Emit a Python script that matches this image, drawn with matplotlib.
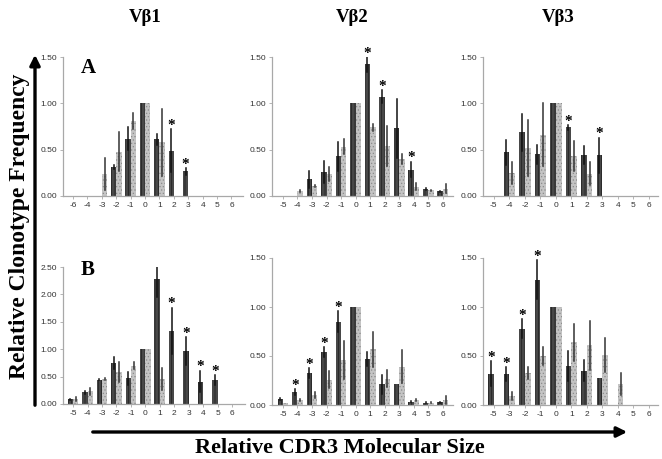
import matplotlib
matplotlib.use("Agg")
import matplotlib.pyplot as plt
from matplotlib.patches import FancyArrowPatch
import numpy as np

W, H = 662, 459

# size categories per panel
cats_v1 = ['-6', '-4', '-3', '-2', '-1', '0', '1', '2', '3', '4', '5', '6']
cats_v2 = ['-5', '-4', '-3', '-2', '-1', '0', '1', '2', '3', '4', '5', '6']
cats_v3a = ['-5', '-4', '-2', '-1', '0', '1', '2', '3', '4', '5', '6']
cats_v3b = ['-5', '-3', '-2', '-1', '0', '1', '2', '3', '4', '5', '6']

# row A
a1_dark = [0, 0, 0, 0.31, 0.62, 1.0, 0.61, 0.49, 0.265, 0, 0, 0]
a1_dark_err = [0, 0, 0, 0.02, 0.12, 0, 0.06, 0.23, 0.04, 0, 0, 0]
a1_light = [0, 0, 0.24, 0.48, 0.81, 1.0, 0.58, 0, 0, 0, 0, 0]
a1_light_err = [0, 0, 0.17, 0.21, 0.09, 0, 0.36, 0, 0, 0, 0, 0]
a1_star = [0, 0, 0, 0, 0, 0, 0, 1, 1, 0, 0, 0]

a2_dark = [0, 0, 0.18, 0.26, 0.43, 1.0, 1.42, 1.07, 0.73, 0.285, 0.072, 0.05]
a2_dark_err = [0, 0, 0.09, 0.115, 0.155, 0, 0.08, 0.07, 0.32, 0.085, 0.01, 0.005]
a2_light = [0, 0.054, 0.105, 0.235, 0.53, 1.0, 0.74, 0.54, 0.40, 0.10, 0.06, 0.08]
a2_light_err = [0, 0.01, 0.01, 0.075, 0.08, 0, 0.04, 0.215, 0.05, 0.04, 0.01, 0.05]
a2_star = [0, 0, 0, 0, 0, 0, 1, 1, 0, 1, 0, 0]

a3_dark = [0, 0.47, 0.69, 0.45, 1.0, 0.74, 0.44, 0.44, 0, 0, 0]
a3_dark_err = [0, 0.135, 0.20, 0.10, 0, 0.025, 0.10, 0.19, 0, 0, 0]
a3_light = [0, 0.25, 0.52, 0.66, 1.0, 0.43, 0.24, 0, 0, 0, 0]
a3_light_err = [0, 0.12, 0.30, 0.34, 0, 0.16, 0.125, 0, 0, 0, 0]
a3_star = [0, 0, 0, 0, 0, 1, 0, 1, 0, 0, 0]

# row B
b1_dark = [0.09, 0.21, 0.44, 0.75, 0.47, 1.0, 2.29, 1.34, 0.97, 0.41, 0.44, 0]
b1_dark_err = [0.01, 0.02, 0.01, 0.11, 0.12, 0, 0.33, 0.42, 0.25, 0.20, 0.09, 0]
b1_light = [0.09, 0.23, 0.45, 0.59, 0.70, 1.0, 0.45, 0, 0, 0, 0, 0]
b1_light_err = [0.03, 0.07, 0.02, 0.18, 0.07, 0, 0.20, 0, 0, 0, 0, 0]
b1_star = [0, 0, 0, 0, 0, 0, 1, 1, 1, 1, 1, 0]

b2_dark = [0.058, 0.13, 0.33, 0.54, 0.85, 1.0, 0.47, 0.21, 0.21, 0.034, 0.024, 0.027]
b2_dark_err = [0.01, 0.03, 0.05, 0.05, 0.11, 0, 0.07, 0.10, 0, 0.005, 0.005, 0.005]
b2_light = [0.02, 0.05, 0.10, 0.26, 0.46, 1.0, 0.57, 0.27, 0.39, 0.05, 0.024, 0.05]
b2_light_err = [0, 0.01, 0.03, 0.09, 0.19, 0, 0.18, 0.09, 0.17, 0.01, 0.005, 0.04]
b2_star = [0, 1, 1, 1, 1, 0, 0, 0, 0, 0, 0, 0]

b3_dark = [0.32, 0.32, 0.78, 1.28, 1.0, 0.40, 0.35, 0.28, 0, 0, 0]
b3_dark_err = [0.13, 0.07, 0.10, 0.20, 0, 0.15, 0.11, 0, 0, 0, 0]
b3_light = [0, 0.096, 0.33, 0.50, 1.0, 0.64, 0.61, 0.51, 0.215, 0, 0]
b3_light_err = [0, 0.04, 0.06, 0.09, 0, 0.19, 0.25, 0.17, 0.11, 0, 0]
b3_star = [1, 1, 1, 1, 0, 0, 0, 0, 0, 0, 0]

plt.rcParams['hatch.linewidth'] = 0.5
plt.rcParams['font.family'] = ['Liberation Sans', 'DejaVu Sans']

fig = plt.figure(figsize=(W / 100, H / 100), dpi=100)


def px_axes(left, top, right, bottom):
    return fig.add_axes([left / W, 1 - bottom / H, (right - left) / W, (bottom - top) / H])


def panel(box, xlim, ymax, cats, dark, dark_err, light, light_err, star):
    ax = px_axes(*box)
    x = np.arange(len(cats))
    w = 0.37
    ax.bar(x - w / 2, dark, w, color='#484848', edgecolor='#1e1e1e',
           hatch='|||||', linewidth=0)
    ax.bar(x + w / 2, light, w, color='#c4c4c4', edgecolor='#8c8c8c',
           hatch='.....', linewidth=0)
    for xi, v, e in zip(x - w / 2, dark, dark_err):
        if v > 0 and e > 0:
            ax.plot([xi, xi], [v - e, v + e], color='#111111', lw=1.1)
    for xi, v, e in zip(x + w / 2, light, light_err):
        if v > 0 and e > 0:
            ax.plot([xi, xi], [v - e, v + e], color='#333333', lw=1.1)
    for xi, v, e, s in zip(x - w / 2, dark, dark_err, star):
        if s:
            ax.annotate('*', (xi, v + e), xytext=(0, -2), textcoords='offset points',
                        ha='center', va='bottom', fontsize=11, fontweight='bold',
                        family='Liberation Serif')
    ax.set_xlim(*xlim)
    ax.set_ylim(0, ymax)
    ax.set_xticks(x)
    ax.set_xticklabels(cats)
    ax.set_yticks(np.arange(0, ymax + 0.01, 0.5))
    ax.set_yticklabels(['%.2f' % t for t in np.arange(0, ymax + 0.01, 0.5)])
    for sp in ['top', 'right']:
        ax.spines[sp].set_visible(False)
    for sp in ['left', 'bottom']:
        ax.spines[sp].set_color('#a8a8a8')
        ax.spines[sp].set_linewidth(0.9)
    ax.tick_params(axis='both', length=2, width=0.6, color='#a8a8a8',
                   labelsize=6, labelcolor='#333333', pad=2)
    ax.set_facecolor('none')
    return ax


panel((63, 57, 243, 196), (-0.7, 11.8), 1.5, cats_v1,
      a1_dark, a1_dark_err, a1_light, a1_light_err, a1_star)
panel((272, 57, 453, 196), (-0.75, 11.7), 1.5, cats_v2,
      a2_dark, a2_dark_err, a2_light, a2_light_err, a2_star)
panel((483, 57, 658, 196), (-0.7, 10.6), 1.5, cats_v3a,
      a3_dark, a3_dark_err, a3_light, a3_light_err, a3_star)
panel((63, 267, 245, 404), (-0.7, 11.9), 2.5, cats_v2,
      b1_dark, b1_dark_err, b1_light, b1_light_err, b1_star)
panel((272, 258, 453, 405), (-0.75, 11.7), 1.5, cats_v2,
      b2_dark, b2_dark_err, b2_light, b2_light_err, b2_star)
panel((483, 258, 658, 405), (-0.7, 10.6), 1.5, cats_v3b,
      b3_dark, b3_dark_err, b3_light, b3_light_err, b3_star)

serif = ['Liberation Serif', 'DejaVu Serif']


def ftext(xp, yp, s, **kw):
    fig.text(xp / W, 1 - yp / H, s, family=serif, fontweight='bold', **kw)


ftext(145, 18, 'Vβ1', fontsize=13.5, ha='center', va='center')
ftext(352, 18, 'Vβ2', fontsize=13.5, ha='center', va='center')
ftext(558, 18, 'Vβ3', fontsize=13.5, ha='center', va='center')
ftext(88, 68, 'A', fontsize=15, ha='center', va='center')
ftext(88, 270, 'B', fontsize=15, ha='center', va='center')
ftext(20, 226, 'Relative Clonotype Frequency', fontsize=17, ha='center',
      va='center', rotation=90)
ftext(340, 448, 'Relative CDR3 Molecular Size', fontsize=16, ha='center',
      va='center')

fig.add_artist(FancyArrowPatch((35 / W, 1 - 408 / H), (35 / W, 1 - 52 / H),
                               transform=fig.transFigure, arrowstyle='-|>',
                               mutation_scale=15, lw=2.4, color='black'))
fig.add_artist(FancyArrowPatch((90 / W, 1 - 432 / H), (630 / W, 1 - 432 / H),
                               transform=fig.transFigure, arrowstyle='-|>',
                               mutation_scale=15, lw=2.4, color='black'))

fig.savefig('out.png', dpi=100)
